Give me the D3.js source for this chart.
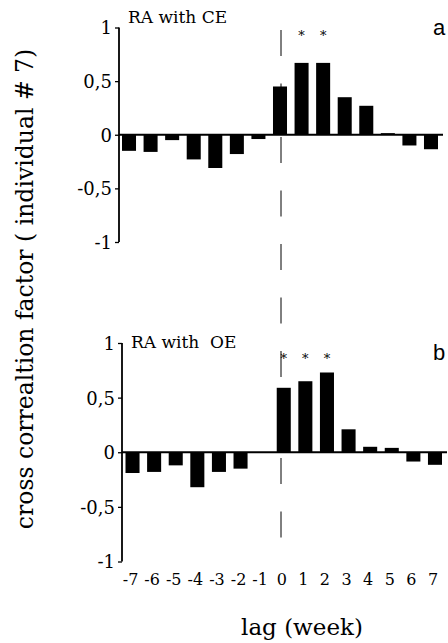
<!DOCTYPE html>
<html>
<head>
<meta charset="utf-8">
<script src="https://cdn.jsdelivr.net/npm/d3@7"></script>
<style>
  body { margin: 0; background: #fff; }
  svg { display: block; }
  text { font-family: "DejaVu Serif", serif; fill: #000; }
</style>
</head>
<body>
<svg id="chart" width="448" height="643"></svg>
<script>
// lags in weeks
const lags = [-7, -6, -5, -4, -3, -2, -1, 0, 1, 2, 3, 4, 5, 6, 7];

// cross correlation of RA with CE (panel a)
const ceValues = [-0.15, -0.16, -0.05, -0.23, -0.31, -0.18, -0.04, 0.45, 0.67, 0.67, 0.35, 0.27, 0.015, -0.10, -0.135];
const ceStars = [1, 2];

// cross correlation of RA with OE (panel b)
const oeValues = [-0.19, -0.18, -0.12, -0.32, -0.18, -0.15, 0, 0.59, 0.65, 0.73, 0.21, 0.05, 0.04, -0.085, -0.115];
const oeStars = [0, 1, 2];

const yTicks = [-1, -0.5, 0, 0.5, 1];

const svg = d3.select("#chart");
const fmt = d => String(d).replace(".", ",");

// one panel of the figure
function drawPanel(cfg) {
    let g = svg.append("g");

    let x = d3.scaleBand()
        .domain(lags)
        .range(cfg.xRange)
        .paddingInner(0.35)
        .paddingOuter(0);

    let y = d3.scaleLinear()
        .domain([-1, 1])
        .range(cfg.yRange);

    // y axis
    let yAxis = g.append("g")
        .attr("transform", `translate(${cfg.axisX},0)`)
        .call(d3.axisLeft(y).tickValues(yTicks).tickFormat(fmt).tickSize(4).tickPadding(3))
        .attr("font-family", null)
        .attr("font-size", null);
    yAxis.select(".domain").attr("stroke-width", 1.8).attr("d", `M0,${y(1)}V${y(-1)}`);
    yAxis.selectAll(".tick line").attr("stroke-width", 1.3);
    yAxis.selectAll(".tick text")
        .attr("dy", "0.36em")
        .style("font-size", "18px");

    // bars
    g.selectAll(".bar")
        .data(lags.map((l, i) => ({ lag: l, v: cfg.values[i] })))
        .join("rect")
        .attr("class", "bar")
        .attr("x", d => x(d.lag))
        .attr("width", x.bandwidth())
        .attr("y", d => y(Math.max(0, d.v)))
        .attr("height", d => Math.abs(y(d.v) - y(0)))
        .attr("fill", "#000");

    // zero line
    g.append("line")
        .attr("x1", cfg.axisX)
        .attr("x2", cfg.zeroEnd)
        .attr("y1", y(0))
        .attr("y2", y(0))
        .attr("stroke", "#000")
        .attr("stroke-width", 2);

    // significance stars
    g.selectAll(".star")
        .data(cfg.stars)
        .join("text")
        .attr("class", "star")
        .attr("x", d => x(d) + x.bandwidth() / 2)
        .attr("y", cfg.starY)
        .attr("text-anchor", "middle")
        .style("font-size", "13px")
        .text("*");

    // panel title (keeps the double space)
    g.append("text")
        .attr("x", cfg.axisX + 9)
        .attr("y", cfg.titleY)
        .style("font-size", "17px")
        .style("white-space", "pre")
        .text(cfg.title);

    // panel letter
    g.append("text")
        .attr("x", 433)
        .attr("y", cfg.letterY)
        .style("font-family", "Liberation Sans, Arial, sans-serif")
        .style("font-size", "22px")
        .text(cfg.letter);

    return x;
}

drawPanel({
    values: ceValues, stars: ceStars, title: "RA with CE", letter: "a",
    xRange: [122, 438], yRange: [242, 27.5], axisX: 119, zeroEnd: 443,
    starY: 40, titleY: 23, letterY: 35
});

let xb = drawPanel({
    values: oeValues, stars: oeStars, title: "RA with  OE", letter: "b",
    xRange: [125.5, 442], yRange: [561.5, 343], axisX: 122, zeroEnd: 447,
    starY: 363, titleY: 348, letterY: 360
});

// lag labels under the lower panel
svg.append("g")
    .selectAll("text")
    .data(lags)
    .join("text")
    .attr("x", d => xb(d) + xb.bandwidth() / 2 - 2)
    .attr("y", 585)
    .attr("text-anchor", "middle")
    .style("font-size", "16px")
    .text(d => d);

// dashed line at lag 0 running through both panels
svg.append("line")
    .attr("x1", 281)
    .attr("x2", 281)
    .attr("y1", 30)
    .attr("y2", 538)
    .attr("stroke", "#000")
    .attr("stroke-width", 1)
    .attr("stroke-dasharray", "26,27.5");

// axis titles
svg.append("text")
    .attr("transform", "translate(33,289) rotate(-90)")
    .attr("text-anchor", "middle")
    .style("font-size", "23.5px")
    .text("cross correaltion factor ( individual # 7)");

svg.append("text")
    .attr("x", 302)
    .attr("y", 635)
    .attr("text-anchor", "middle")
    .style("font-size", "23px")
    .text("lag (week)");
</script>
</body>
</html>
